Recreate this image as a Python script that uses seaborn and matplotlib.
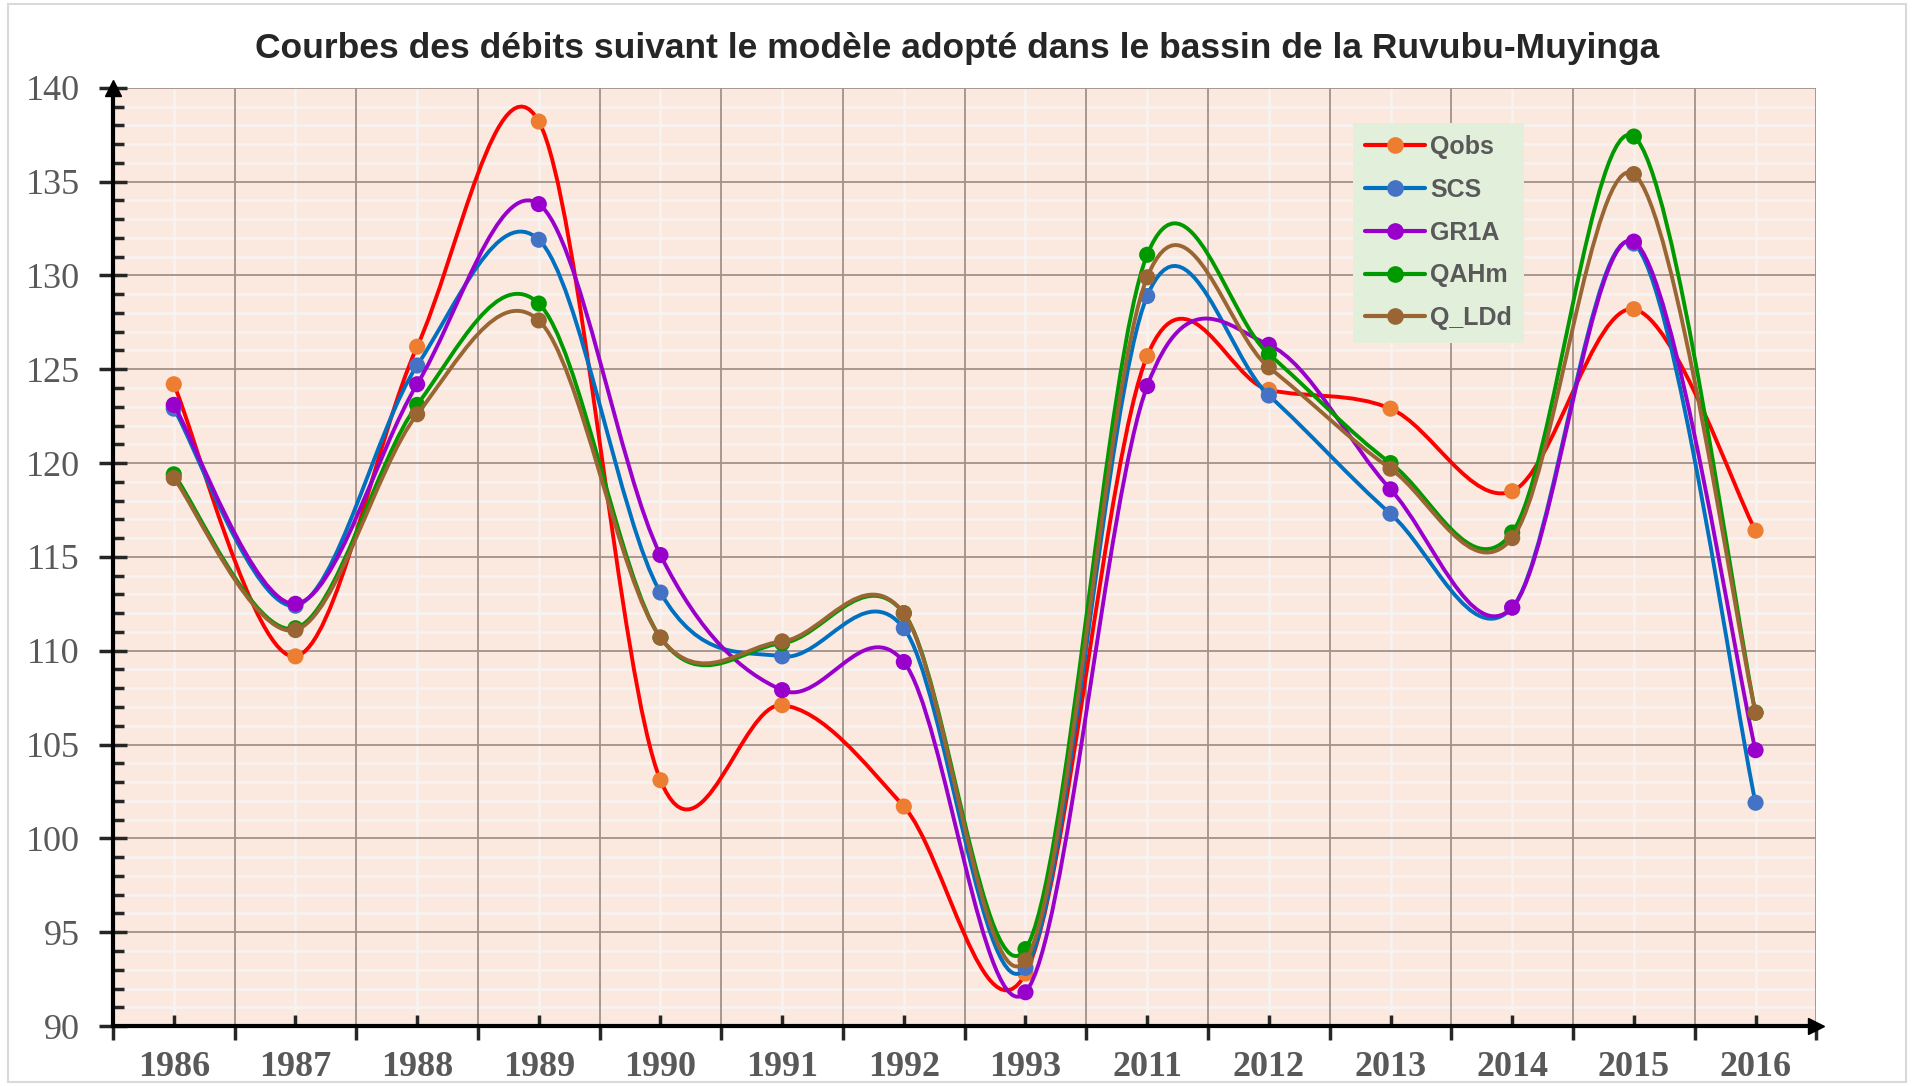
import matplotlib
matplotlib.use('Agg')
from matplotlib import pyplot as plt
from matplotlib.path import Path
from matplotlib.patches import PathPatch, Rectangle
from matplotlib.lines import Line2D
from matplotlib.ticker import MultipleLocator, FixedLocator
import pandas as pd
import seaborn as sns

years = ['1986', '1987', '1988', '1989', '1990', '1991', '1992', '1993',
         '2011', '2012', '2013', '2014', '2015', '2016']
qobs = [124.2, 109.7, 126.2, 138.2, 103.1, 107.1, 101.7, 92.8, 125.7, 123.9, 122.9, 118.5, 128.2, 116.4]
scs = [122.9, 112.4, 125.2, 131.9, 113.1, 109.7, 111.2, 93.1, 128.9, 123.6, 117.3, 112.3, 131.7, 101.9]
gr1a = [123.1, 112.5, 124.2, 133.8, 115.1, 107.9, 109.4, 91.8, 124.1, 126.3, 118.6, 112.3, 131.8, 104.7]
qahm = [119.4, 111.2, 123.1, 128.5, 110.7, 110.4, 112.0, 94.1, 131.1, 125.8, 120.0, 116.3, 137.4, 106.7]
q_ldd = [119.2, 111.1, 122.6, 127.6, 110.7, 110.5, 112.0, 93.5, 129.9, 125.1, 119.7, 116.0, 135.4, 106.7]

series = ['Qobs', 'SCS', 'GR1A', 'QAHm', 'Q_LDd']
values = [qobs, scs, gr1a, qahm, q_ldd]
line_colors = ['#FF0000', '#0070C0', '#9900CC', '#009900', '#996633']
marker_colors = ['#ED7D31', '#4472C4', '#9900CC', '#009900', '#996633']

sns.set_style('ticks')
plt.rcParams['font.family'] = ['Liberation Serif', 'DejaVu Serif']


# smooth curve like excel (bezier through the points)
def smooth_path(xs, ys):
    pts = list(zip(xs, ys))
    n = len(pts)
    verts = [pts[0]]
    codes = [Path.MOVETO]
    for i in range(n - 1):
        p0 = pts[i - 1] if i > 0 else pts[i]
        p1 = pts[i]
        p2 = pts[i + 1]
        p3 = pts[i + 2] if i + 2 < n else pts[i + 1]
        c1 = (p1[0] + (p2[0] - p0[0]) / 6, p1[1] + (p2[1] - p0[1]) / 6)
        c2 = (p2[0] - (p3[0] - p1[0]) / 6, p2[1] - (p3[1] - p1[1]) / 6)
        verts += [c1, c2, p2]
        codes += [Path.CURVE4] * 3
    return Path(verts, codes)


fig = plt.figure(figsize=(19.14, 10.86), dpi=100)
ax = fig.add_axes([0.059, 0.0552, 0.890, 0.864])
ax.set_facecolor('#FBE9E0')

x = list(range(len(years)))
for i, name in enumerate(series):
    df = pd.DataFrame({'x': x, 'y': values[i]})
    ax.add_patch(PathPatch(smooth_path(x, values[i]), facecolor='none',
                           edgecolor=line_colors[i], lw=2.8, zorder=3 + 2 * i))
    sns.scatterplot(data=df, x='x', y='y', ax=ax, color=marker_colors[i], s=135,
                    edgecolor='none', zorder=4 + 2 * i, legend=False)

ax.set_xlim(-0.5, 13.5)
ax.set_ylim(90, 140)
ax.set_xlabel('')
ax.set_ylabel('')

ax.xaxis.set_major_locator(FixedLocator(x))
ax.set_xticklabels(years)
ax.xaxis.set_minor_locator(FixedLocator([v - 0.5 for v in range(15)]))
ax.yaxis.set_major_locator(MultipleLocator(5))
ax.yaxis.set_minor_locator(MultipleLocator(1))

ax.tick_params(axis='x', which='major', direction='in', length=8, width=2.5, pad=18,
               labelsize=26, labelcolor='#595959')
ax.tick_params(axis='x', which='minor', direction='out', length=10, width=2.5)
ax.tick_params(axis='y', which='major', direction='inout', length=20, width=2.5, pad=14,
               labelsize=26, labelcolor='#595959')
ax.tick_params(axis='y', which='minor', direction='in', length=8, width=2.5)
for lab in ax.get_xticklabels():
    lab.set_fontweight('bold')

# light grid lines under the dark ones
ax.hlines([v for v in range(91, 140) if v % 5 != 0], -0.5, 13.5, color='#F6F3F1', lw=1.8, zorder=0.2)
ax.vlines(x, 90, 140, color='#F6F3F1', lw=1.8, zorder=0.2)

ax.set_axisbelow(True)
ax.grid(which='major', axis='y', color='#A0928A', lw=1.3)
ax.grid(which='minor', axis='x', color='#A0928A', lw=1.3)
ax.grid(which='major', axis='x', visible=False)

for side in ['top', 'right']:
    ax.spines[side].set_visible(False)
for side in ['left', 'bottom']:
    ax.spines[side].set_color('black')
    ax.spines[side].set_linewidth(3)

# arrows at the axis ends
ax.plot(0, 1, marker='^', color='black', markersize=12, transform=ax.transAxes, clip_on=False)
ax.plot(1, 0, marker='>', color='black', markersize=12, transform=ax.transAxes, clip_on=False)

handles = [Line2D([], [], color=line_colors[i], lw=3, marker='o', markersize=11,
                  markerfacecolor=marker_colors[i], markeredgecolor=marker_colors[i])
           for i in range(len(series))]
leg = ax.legend(handles, series, loc='upper left', bbox_to_anchor=(0.7277, 0.9627),
                borderaxespad=0, frameon=True, fancybox=False, framealpha=1,
                facecolor='#E2EFDA', edgecolor='none', handlelength=2.4,
                handletextpad=0.2, labelspacing=0.75, borderpad=0.5,
                prop={'family': 'Liberation Sans', 'weight': 'bold', 'size': 18})
for t in leg.get_texts():
    t.set_color('#595959')

fig.text(0.5, 0.955, 'Courbes des débits suivant le modèle adopté dans le bassin de la Ruvubu-Muyinga',
         ha='center', va='center', fontsize=25.5, fontweight='heavy', family='Liberation Sans')

fig.patches.append(Rectangle((0.004, 0.004), 0.992, 0.992, transform=fig.transFigure,
                             fill=False, edgecolor='#D9D9D9', lw=1.5))

fig.savefig('out.png', dpi=100)
